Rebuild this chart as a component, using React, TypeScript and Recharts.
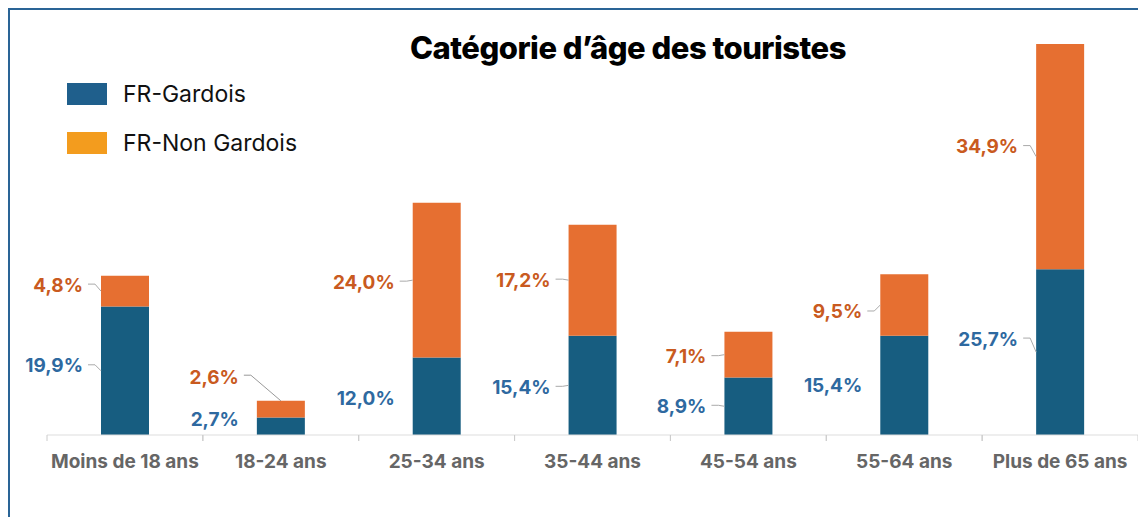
import React from 'react';
import { BarChart, Bar, XAxis, YAxis, LabelList } from 'recharts';

// Catégorie d'âge des touristes (% par tranche)
const categories = ['Moins de 18 ans', '18-24 ans', '25-34 ans', '35-44 ans', '45-54 ans', '55-64 ans', 'Plus de 65 ans'];
const gardois = [19.9, 2.7, 12.0, 15.4, 8.9, 15.4, 25.7];
const nonGardois = [4.8, 2.6, 24.0, 17.2, 7.1, 9.5, 34.9];

// label placement tweaks (vertical nudge from segment middle, leader on/off)
const gardoisNudge = [-5, -7, 2, 2, 0, 0, -13];
const nonGardoisNudge = [-6, -32, 2, 0, 2, 7, -10];
const gardoisLeader = [true, false, false, true, true, false, true];
const nonGardoisLeader = [true, true, true, true, true, true, true];

const data = categories.map((name, i) => ({ name, gardois: gardois[i], nonGardois: nonGardois[i] }));

const BLUE = '#175d80';
const ORANGE = '#e66f31';
const FONT = 'Inter, Roboto, "Liberation Sans", sans-serif';

const fmt = (v: number) => v.toFixed(1).replace('.', ',') + '%';

const makeLabel = (color: string, nudge: number[], leader: boolean[]) => (props: any) => {
  const { x, y, width, height, value, index } = props;
  const mid = y + height / 2;
  const ly = mid + nudge[index];
  const tx = x - 18;
  const above = ly < y - 4;
  return (
    <g>
      {leader[index] && (above ? (
        <polyline points={`${tx + 5},${ly - 2} ${tx + 12},${ly - 2} ${x + width / 2},${y}`} fill="none" stroke="#999" strokeWidth={1} />
      ) : (
        <polyline points={`${tx + 5},${ly - 1} ${x - 6},${ly - 1} ${x},${mid}`} fill="none" stroke="#aaa" strokeWidth={1} />
      ))}
      <text x={tx} y={ly} textAnchor="end" dominantBaseline="central" fill={color}
        style={{ fontFamily: FONT, fontWeight: 700, fontSize: 19 }}>
        {fmt(value)}
      </text>
    </g>
  );
};

const Tick = (props: any) => {
  const { x, y, payload, width, visibleTicksCount } = props;
  const half = width / visibleTicksCount / 2;
  return (
    <g>
      <line x1={x - half} y1={y - 8} x2={x - half} y2={y - 2} stroke="#ccc" />
      <line x1={x + half} y1={y - 8} x2={x + half} y2={y - 2} stroke="#ccc" />
      <text x={x} y={y + 25} textAnchor="middle" fill="#666"
        style={{ fontFamily: FONT, fontWeight: 700, fontSize: 19 }}>
        {payload.value}
      </text>
    </g>
  );
};

const legendItems = [['FR-Gardois', '#1f5f8c'], ['FR-Non Gardois', '#f39c1e']];

export default function App() {
  return (
    <div style={{ position: 'absolute', left: 0, top: 0, width: 1138, height: 517, background: '#fff', overflow: 'hidden' }}>
      <div style={{ position: 'absolute', left: 8, top: 8, width: 1200, height: 600, borderLeft: '2px solid #2a6496', borderTop: '2px solid #2a6496' }} />
      <div style={{ position: 'absolute', left: 328, top: 29, width: 600, textAlign: 'center', fontFamily: FONT, fontWeight: 800, fontSize: 31, color: '#000', letterSpacing: -0.5 }}>
        Catégorie d’âge des touristes
      </div>
      <div style={{ position: 'absolute', left: 67, top: 83, fontFamily: FONT, fontSize: 23, color: '#111', zIndex: 2 }}>
        {legendItems.map(([label, c]) => (
          <div key={label} style={{ display: 'flex', alignItems: 'center', height: 22, marginBottom: 27 }}>
            <span style={{ width: 40, height: 22, background: c, display: 'inline-block', marginRight: 16 }} />
            {label}
          </div>
        ))}
      </div>
      <BarChart width={1138} height={517} data={data} margin={{ top: 44, right: 0, left: 47, bottom: 52 }} barSize={48}>
        <XAxis dataKey="name" axisLine={{ stroke: '#ddd' }} tickLine={false} tick={<Tick />} interval={0} height={30} />
        <YAxis hide domain={[0, 'dataMax']} />
        <Bar dataKey="gardois" stackId="a" fill={BLUE} isAnimationActive={false}>
          <LabelList dataKey="gardois" content={makeLabel('#2e69a0', gardoisNudge, gardoisLeader)} />
        </Bar>
        <Bar dataKey="nonGardois" stackId="a" fill={ORANGE} isAnimationActive={false}>
          <LabelList dataKey="nonGardois" content={makeLabel('#c95a20', nonGardoisNudge, nonGardoisLeader)} />
        </Bar>
      </BarChart>
    </div>
  );
}
